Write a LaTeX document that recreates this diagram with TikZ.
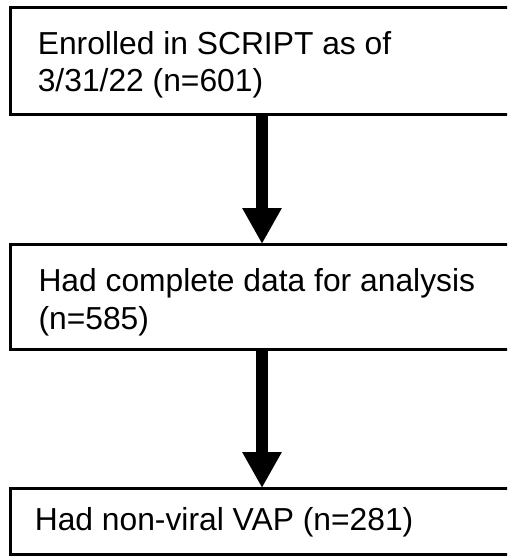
\documentclass[tikz,border=0pt]{standalone}
\usepackage{fontspec}
\setmainfont{Liberation Sans}
\usetikzlibrary{arrows.meta}
\begin{document}
\begin{tikzpicture}[x=1pt, y=-1pt,
  box/.style={draw=black, line width=3pt, rectangle, outer sep=0pt, inner sep=0pt,
              minimum width=530pt, anchor=north west},
  txt/.style={font=\fontsize{31.8}{37.4}\selectfont, align=left, inner sep=0pt, anchor=base west},
  flow/.style={line width=12pt, -{Triangle[width=37pt,length=36pt]}}]
\useasboundingbox (0,0) rectangle (507,556);
\clip (0,0) rectangle (507,556);

% the three stages, running off the right edge
\node[box, minimum height=107pt] (b1) at (10.5,8) {};
\node[box, minimum height=105pt] (b2) at (10.5,244) {};
\node[box, minimum height=66pt]  (b3) at (10.5,488) {};

% base anchor of a multi-line node sits on its last line
\node[txt] (t1) at (37.6,91.7) {Enrolled in SCRIPT as of\\3/31/22 (n=601)};
\node[txt] (t2) at (38.3,329) {Had complete data for analysis\\(n=585)};
\node[txt] (t3) at (34.6,530) {Had non-viral VAP (n=281)};

% downward flow arrows
\coordinate (ax) at (262,0);
\draw[flow] (b1.south -| ax) -- (b2.north -| ax);
\draw[flow] (b2.south -| ax) -- (b3.north -| ax);
\end{tikzpicture}
\end{document}
